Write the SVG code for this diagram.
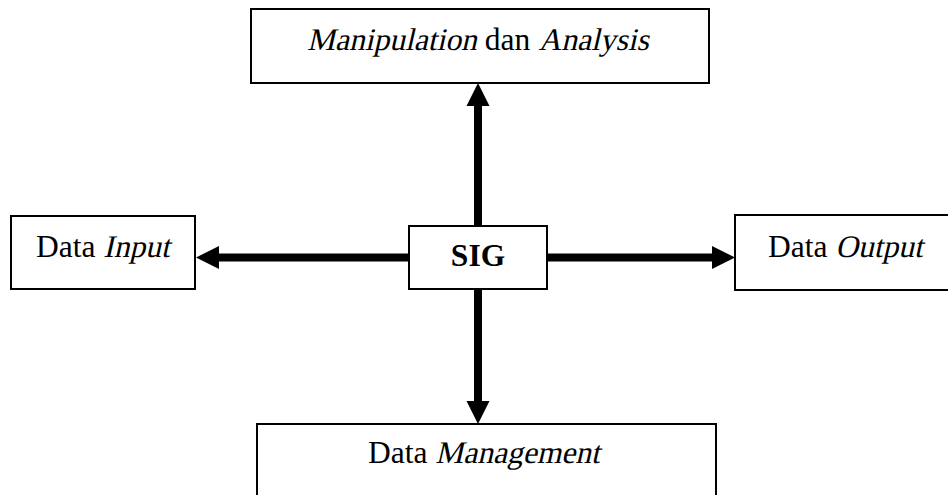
<svg xmlns="http://www.w3.org/2000/svg" width="948" height="495" viewBox="0 0 948 495">
<style>
.box{fill:#fff;stroke:#000;stroke-width:2}
.t{font-family:"Liberation Serif","Times New Roman",serif;font-size:31.5px;fill:#000}
.b{font-weight:bold}
.c{stroke:#000;stroke-width:8;fill:none}
</style>
<defs>
<marker id="ah" markerUnits="userSpaceOnUse" markerWidth="24" markerHeight="24" refX="0" refY="11.5" orient="auto" viewBox="0 0 24 23">
<path d="M0,0 L23,11.5 L0,23 Z" fill="#000"/>
</marker>
</defs>
<rect width="948" height="495" fill="#fff"/>
<g id="connectors">
<line class="c" x1="478" y1="226" x2="478" y2="106" marker-end="url(#ah)"/>
<line class="c" x1="478" y1="289" x2="478" y2="401" marker-end="url(#ah)"/>
<line class="c" x1="409" y1="257.5" x2="219" y2="257.5" marker-end="url(#ah)"/>
<line class="c" x1="547" y1="257.5" x2="712" y2="257.5" marker-end="url(#ah)"/>
</g>
<g id="manipulation">
<rect class="box" x="251" y="9" width="458" height="74"/>
<text class="t" transform="translate(307,50) skewX(-13)" x="0" y="0">Manipulation</text>
<text class="t" x="484.7" y="50">dan</text>
<text class="t" transform="translate(538.5,50) skewX(-13)" x="0" y="0">Analysis</text>
</g>
<g id="input">
<rect class="box" x="11" y="216" width="184" height="73"/>
<text class="t" x="36" y="257">Data</text>
<text class="t" transform="translate(103.3,257) skewX(-13)" x="0" y="0">Input</text>
</g>
<g id="sig">
<rect class="box" x="409" y="226" width="138" height="63"/>
<text class="t b" x="478" y="266" text-anchor="middle">SIG</text>
</g>
<g id="output">
<rect class="box" x="735" y="215" width="230" height="75"/>
<text class="t" x="768" y="257">Data</text>
<text class="t" transform="translate(835.3,257) skewX(-13)" x="0" y="0">Output</text>
</g>
<g id="management">
<rect class="box" x="257" y="424" width="459" height="90"/>
<text class="t" x="368" y="463">Data</text>
<text class="t" transform="translate(435.3,463) skewX(-13)" x="0" y="0">Management</text>
</g>
</svg>
